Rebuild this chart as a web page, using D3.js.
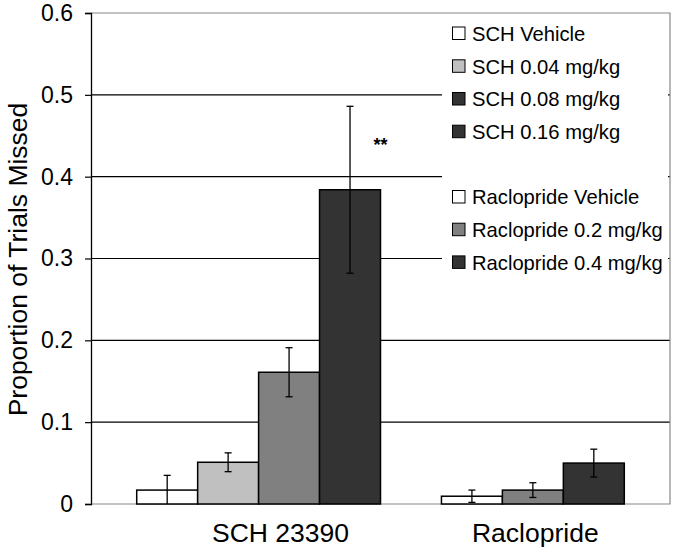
<!DOCTYPE html>
<html><head><meta charset="utf-8">
<script src="https://cdn.jsdelivr.net/npm/d3@7"></script>
<style>body{margin:0;background:#fff}svg{display:block;font-family:"Liberation Sans",Arial,sans-serif}</style>
</head><body><svg id="c" width="684" height="555"></svg>
<script>
// Data
const series = ["SCH Vehicle","SCH 0.04 mg/kg","SCH 0.08 mg/kg","SCH 0.16 mg/kg","Raclopride Vehicle","Raclopride 0.2 mg/kg","Raclopride 0.4 mg/kg"];
const seriesGroup = ["SCH 23390","SCH 23390","SCH 23390","SCH 23390","Raclopride","Raclopride","Raclopride"];
const values = [0.017, 0.051, 0.161, 0.384, 0.0095, 0.017, 0.050];
const errors = [0.018, 0.0115, 0.030, 0.102, 0.0075, 0.009, 0.017];
const slots = [0,1,2,3,5,6,7];
const barColors = ["#ffffff","#c0c0c0","#808080","#333333","#ffffff","#808080","#333333"];
const legendColors = ["#ffffff","#c0c0c0","#333333","#333333","#ffffff","#808080","#333333"];
const categories = ["SCH 23390","Raclopride"];
const categorySlot = [2.36, 6.54];
const yTicks = [0,0.1,0.2,0.3,0.4,0.5,0.6];
const yTickLabels = ["0","0.1","0.2","0.3","0.4","0.5","0.6"];
const annotations = [{slot:4.0, value:0.431, text:"**"}];

const svg = d3.select("#c");
const L=91, R=670, T=13, B=504;
const x = d3.scaleLinear().domain([-0.75, 8.75]).range([L,R]);
const y = d3.scaleLinear().domain([0,0.6]).range([B,T]);
const bw = x(1)-x(0);

// gridlines
svg.append("g").selectAll("line").data(yTicks.filter(d=>d>0 && d<0.6)).join("line")
  .attr("x1",L).attr("x2",R).attr("y1",d=>y(d)).attr("y2",d=>y(d))
  .attr("stroke","#000").attr("stroke-width",1.2);

// border (top/right/bottom gray)
svg.append("path").attr("d",`M${L},${T}H${R}V${B}H${L}`).attr("fill","none").attr("stroke","#888").attr("stroke-width",1.2);

// legend background
const lg = svg.append("g");
lg.append("rect").attr("x",442).attr("y",17).attr("width",226).attr("height",257).attr("fill","#fff");
const legY = [33.5,66.3,99,131.7,197,229.7,262.4];
series.forEach((s,i)=>{
  lg.append("rect").attr("x",452.5).attr("y",legY[i]-6.5).attr("width",12.5).attr("height",12.5)
    .attr("fill",legendColors[i]).attr("stroke","#000").attr("stroke-width",1);
  lg.append("text").attr("x",472).attr("y",legY[i]).attr("dy","0.36em")
    .attr("font-size",20.2).attr("fill","#000").text(s);
});

// bars
svg.append("g").selectAll("rect").data(values).join("rect")
  .attr("x",(d,i)=>x(slots[i])).attr("width",bw)
  .attr("y",d=>y(d)).attr("height",d=>B-y(d))
  .attr("fill",(d,i)=>barColors[i]).attr("stroke","#000").attr("stroke-width",1.5);

// error bars
const eg = svg.append("g").attr("stroke","#000").attr("stroke-width",1.3);
values.forEach((v,i)=>{
  const cx = x(slots[i]+0.5);
  const hi = v+errors[i], lo = Math.max(0,v-errors[i]);
  eg.append("line").attr("x1",cx).attr("x2",cx).attr("y1",y(hi)).attr("y2",y(lo));
  eg.append("line").attr("x1",cx-3.5).attr("x2",cx+3.5).attr("y1",y(hi)).attr("y2",y(hi));
  if (v-errors[i] > 0) eg.append("line").attr("x1",cx-3.5).attr("x2",cx+3.5).attr("y1",y(lo)).attr("y2",y(lo));
});

// y axis
const yAxis = d3.axisLeft(y).tickValues(yTicks).tickFormat((d,i)=>yTickLabels[i]).tickSize(6).tickPadding(12);
const ya = svg.append("g").attr("transform",`translate(${L},0)`).call(yAxis);
ya.select(".domain").attr("stroke","#000").attr("stroke-width",1.3);
ya.selectAll(".tick line").attr("stroke","#000").attr("stroke-width",1.2);
ya.selectAll(".tick text").attr("font-size",23).attr("fill","#000").attr("font-family","Liberation Sans, Arial, sans-serif");

// x category labels
svg.append("g").selectAll("text").data(categories).join("text")
  .attr("x",(d,i)=>x(categorySlot[i])).attr("y",542).attr("text-anchor","middle")
  .attr("font-size",26.5).attr("fill","#000").text(d=>d);

// y title
svg.append("text").attr("transform",`translate(27,${(T+B)/2+1}) rotate(-90)`).attr("text-anchor","middle")
  .attr("font-size",26.5).attr("fill","#000").text("Proportion of Trials Missed");

// annotation
svg.append("g").selectAll("text").data(annotations).join("text")
  .attr("x",d=>x(d.slot)).attr("y",d=>y(d.value)).attr("text-anchor","middle")
  .attr("font-size",18).attr("font-weight","bold").attr("fill","#000").text(d=>d.text);
</script></body></html>
